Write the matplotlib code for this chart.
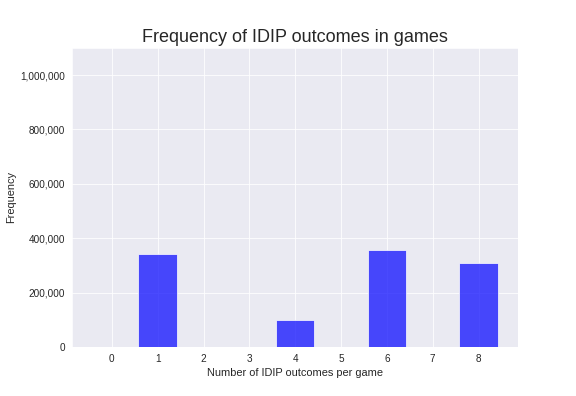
import matplotlib
matplotlib.use("Agg")
import matplotlib.pyplot as plt
import seaborn as sns
from matplotlib.ticker import FuncFormatter

outcomes = [1, 4, 6, 8]
counts = [342000, 99000, 356000, 308000]
xticks = list(range(0, 9))

sns.set_style("darkgrid")
plt.rcParams['font.family'] = ['Liberation Sans', 'DejaVu Sans']

fig = plt.figure(figsize=(8, 5.5), dpi=72)
ax = fig.add_axes([0.125, 0.124, 0.775, 0.755])
ax.bar(outcomes, counts, width=0.84, color='blue', alpha=0.7)
ax.set_xticks(xticks)
ax.set_xlim(-0.87, 8.87)
ax.set_ylim(0, 1100000)
ax.yaxis.set_major_formatter(FuncFormatter(lambda v, p: f"{int(v):,}"))
ax.tick_params(labelsize=10, colors='#262626')
ax.set_xlabel("Number of IDIP outcomes per game", fontsize=11)
ax.set_ylabel("Frequency", fontsize=11)
ax.set_title("Frequency of IDIP outcomes in games", fontsize=18)
fig.savefig("out.png", dpi=72)
